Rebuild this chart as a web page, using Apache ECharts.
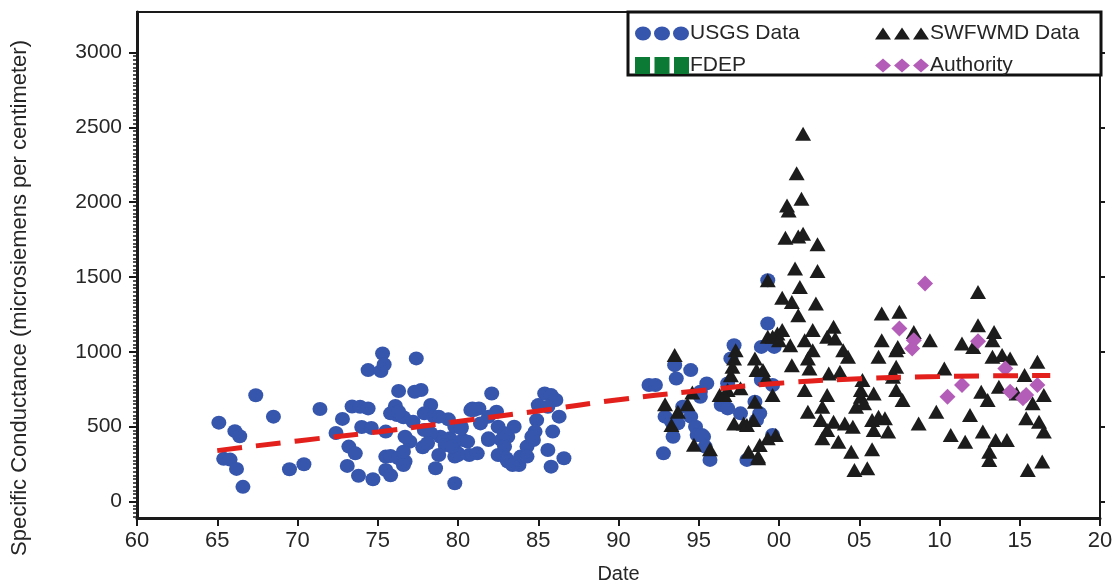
<!DOCTYPE html>
<html>
<head>
<meta charset="utf-8">
<script src="https://cdn.jsdelivr.net/npm/echarts@6/dist/echarts.min.js"></script>
<style>html,body{margin:0;padding:0;background:#fff;}#c{width:1114px;height:584px;}</style>
</head>
<body>
<div id="c"></div>
<script>
// x values are years since 1900 (e.g. 105 = 2005)
const xTickLabels = ['60','65','70','75','80','85','90','95','00','05','10','15','20'];
const yTickValues = [0, 500, 1000, 1500, 2000, 2500, 3000];

const usgsData = [
  [65.1,527],[65.4,285],[65.8,280],[66.1,470],[66.4,436],[66.2,218],[66.6,98],[67.4,710],[68.5,567],[69.5,216],[70.4,249],[71.4,618],[72.4,458],[72.8,552],
  [73.4,635],[73.9,633],[74.4,622],[74.0,498],[74.6,492],[73.2,367],[73.6,322],[73.1,238],[73.8,172],[74.7,149],[74.4,878],[75.2,872],[75.3,989],[75.4,915],[75.5,211],[75.8,175],[75.5,300],[75.8,304],[75.5,467],
  [76.3,289],[76.7,267],[76.6,244],[76.3,738],[76.1,638],[76.2,578],[76.6,563],[75.8,589],[77.2,533],[77.4,956],[77.3,733],[77.7,745],[78.3,645],[77.9,589],[78.5,567],[79.4,549],[78.1,478],[77.0,400],[76.6,333],[77.8,362],[78.9,433],[79.5,422],[79.2,378],[79.7,367],[80.0,322],[78.8,311],[79.8,300],[78.6,222],[79.8,122],[76.7,433],[77.9,478],[78.3,456],[78.1,389],[76.3,600],[78.8,567],[80.2,500],[80.8,611],[80.7,311],[81.2,322],[80.0,311],[80.3,411],[80.6,400],[79.8,500],[80.2,489],[79.6,367],
  [80.9,622],[81.3,622],[82.1,722],[82.4,600],[81.9,567],[81.4,522],[82.5,500],[81.9,411],[82.7,411],[83.1,433],[83.5,500],[82.9,367],[82.5,311],[83.0,289],[83.1,267],[83.6,256],[83.8,244],[83.9,300],[84.3,367],[84.7,411],[84.9,544],[85.0,644],[85.4,722],[85.8,711],[86.1,678],[85.6,633],[86.3,567],[85.9,467],[85.6,344],[85.8,233],[86.6,289],[84.8,467],[81.0,611],[81.9,422],[82.9,456],[83.4,244],[84.3,300],[84.6,433],
  [91.9,778],[92.3,778],[92.8,322],[92.9,567],[93.3,533],[93.4,433],[93.5,911],[93.6,822],[94.5,878],[94.0,633],[93.7,522],[94.5,567],[94.8,500],[94.9,444],[95.3,433],[95.1,733],[95.5,789],[95.7,278],[96.4,644],[96.8,622],[97.2,1044],[97.0,956],[97.6,589],[98.0,278],[98.5,667],[98.8,589],[98.9,811],[99.3,1189],[99.7,1033],[99.3,1478],[98.9,1033],[99.6,778],[99.6,444],[96.8,789],[95.2,444],[95.4,367],[98.6,544],[95.1,700]
];

const swfwmdData = [
  [93.5,978],[92.9,650],[93.7,600],[94.3,650],[94.6,728],[93.3,511],[94.7,380],[95.7,350],
  [96.3,711],[96.8,745],[97.2,522],[97.6,756],[97.8,522],[98.1,333],[98.7,289],
  [97.3,1011],[97.2,956],[97.1,900],[97.0,844],[98.5,956],[98.6,878],[99.0,878],[99.2,822],[99.3,1100],[99.9,1122],[99.6,711],[98.5,667],[96.6,711],[98.0,511],[98.4,544],[99.8,444],[99.3,422],[98.8,378],[98.7,300],
  [101.5,2456],[101.1,2193],[101.4,2022],[100.5,1978],[100.6,1944],[100.4,1762],[101.2,1771],[101.5,1789],[102.4,1718],[101.0,1556],[102.4,1540],[99.3,1478],[101.3,1433],[100.2,1362],[100.8,1333],[102.3,1322],[101.2,1245],[100.2,1145],[99.6,1100],[100.0,1078],[100.7,1044],[102.1,1145],[101.6,1078],[102.1,1011],[103.0,1100],[103.4,1167],[103.5,1089],[104.0,1011],[104.3,967],[100.8,911],[101.8,956],[101.9,889],[103.1,856],[103.8,867],[105.2,811],[105.1,745],[105.1,700],[105.9,722],[106.4,1078],[106.2,967],[106.4,1256],[107.5,1267],[107.3,1011],[107.3,900],[107.1,833],[107.3,745],[107.7,678],[101.6,745],[103.0,711],[101.8,600],[102.7,633],[102.6,544],[103.0,478],[103.4,533],[102.7,422],[104.1,522],[104.6,500],[103.7,400],[104.8,633],[105.3,656],[105.8,544],[106.2,567],[105.9,478],[106.6,556],[106.8,467],[104.5,333],[104.7,211],[105.5,222],[105.8,350],
  [108.4,1133],[109.4,1078],[107.4,1033],[107.1,856],[110.3,889],[108.7,522],[109.8,600],[110.7,444],[111.6,400],[111.4,1056],[112.4,1400],[112.4,1178],[113.4,1133],[113.3,1078],[112.1,1033],[111.9,578],[112.6,733],[113.0,678],[112.7,467],[113.5,411],[113.3,967],[113.9,978],[114.4,956],[113.7,767],[114.8,722],[115.3,845],[116.1,933],[116.5,711],[115.8,656],[115.4,556],[116.2,533],[116.5,467],[114.2,411],[113.1,333],[113.1,278],[115.5,211],[116.4,267]
];

const fdepData = [];

const authorityData = [
  [109.1,1456],[107.5,1156],[108.4,1078],[108.3,1022],[112.4,1071],[114.1,889],[111.4,778],[110.5,700],[114.4,733],[115.4,711],[116.1,778],[115.2,690]
];

const trendData = [
  [65,340],[70,405],[75,465],[80,535],[85,605],[90,680],[95,740],[100,790],[105,820],[110,835],[116.9,842]
];

const minorTickValues = [];
for (let v = -100; v <= 3000; v += 25) minorTickValues.push(v);

const FONT = 'Liberation Sans';
const TXT = '#262626';
const C_USGS = '#3656ad', C_FDEP = '#0b7a35', C_SWF = '#1c1c1c', C_AUTH = '#b35db8';

const iconCircles = 'path://M0,7a8,7 0 1,0 16,0a8,7 0 1,0 -16,0ZM19,7a8,7 0 1,0 16,0a8,7 0 1,0 -16,0ZM38,7a8,7 0 1,0 16,0a8,7 0 1,0 -16,0Z';
const iconSquares = 'path://M0,0L15,0L15,17L0,17ZM19.5,0L34.5,0L34.5,17L19.5,17ZM39,0L54,0L54,17L39,17Z';
const iconTriangles = 'path://M0,12L8,0L16,12ZM19,12L27,0L35,12ZM38,12L46,0L54,12Z';
const iconDiamonds = 'path://M0,7L8,0L16,7L8,14ZM19,7L27,0L35,7L27,14ZM38,7L46,0L54,7L46,14Z';

const chart = echarts.init(document.getElementById('c'));
chart.setOption({
  backgroundColor: '#fff',
  animation: false,
  textStyle: { fontFamily: FONT, color: TXT },
  grid: { left: 137, right: 14, top: 12, bottom: 66, show: true, borderColor: '#1a1a1a', borderWidth: 2, outerBoundsMode: 'none', containLabel: false },
  graphic: [{
    type: 'rect', z: 3,
    shape: { x: 628, y: 12, width: 473, height: 63 },
    style: { fill: '#fff', stroke: '#111', lineWidth: 3 }
  }],
  legend: [{
    orient: 'vertical', left: 630, top: 18, itemGap: 11,
    itemWidth: 54, itemHeight: 17, z: 5,
    textStyle: { fontSize: 21, color: TXT, fontFamily: FONT, padding: [0,0,0,-4] },
    data: [
      { name: 'USGS Data', icon: iconCircles, itemStyle: { color: C_USGS, opacity: 1 } },
      { name: 'FDEP', icon: iconSquares, itemStyle: { color: C_FDEP, opacity: 1 } }
    ]
  }, {
    orient: 'vertical', left: 870, top: 18, itemGap: 11,
    itemWidth: 54, itemHeight: 17, z: 5,
    textStyle: { fontSize: 21, color: TXT, fontFamily: FONT, padding: [0,0,0,-4] },
    data: [
      { name: 'SWFWMD Data', icon: iconTriangles, itemStyle: { color: C_SWF, opacity: 1 } },
      { name: 'Authority', icon: iconDiamonds, itemStyle: { color: C_AUTH, opacity: 1 } }
    ]
  }],
  xAxis: {
    type: 'value', min: 60, max: 120, interval: 5,
    name: 'Date', nameLocation: 'middle', nameGap: 46,
    nameTextStyle: { fontSize: 20, color: TXT, fontFamily: FONT },
    axisLine: { show: true, onZero: false, lineStyle: { color: '#1a1a1a', width: 3 } },
    axisTick: { show: true, inside: false, length: 8, lineStyle: { color: '#1a1a1a', width: 2 } },
    axisLabel: {
      fontSize: 22, color: TXT, margin: 12, fontFamily: FONT,
      formatter: v => xTickLabels[Math.round((v - 60) / 5)]
    },
    splitLine: { show: false }
  },
  yAxis: [{
    type: 'value', min: -110, max: 3270, position: 'left',
    name: 'Specific Conductance (microsiemens per centimeter)',
    nameLocation: 'middle', nameGap: 106, nameRotate: 90,
    nameTextStyle: { fontSize: 22, color: TXT, fontFamily: FONT, padding: [0, 66, 0, 0] },
    axisLine: { show: true, onZero: false, lineStyle: { color: '#1a1a1a', width: 3 } },
    axisTick: { show: true, length: 8, customValues: yTickValues, lineStyle: { color: '#1a1a1a', width: 2 } },
    axisLabel: { fontSize: 21, color: TXT, margin: 15, fontFamily: FONT, customValues: yTickValues, padding: [0, 0, 7, 0], formatter: v => String(v) },
    splitLine: { show: false }
  }, {
    type: 'value', min: -110, max: 3270, position: 'left',
    axisLine: { show: false },
    axisTick: { show: true, length: 4, customValues: minorTickValues, lineStyle: { color: '#1a1a1a', width: 1.5 } },
    axisLabel: { show: false },
    splitLine: { show: false }
  }, {
    type: 'value', min: -110, max: 3270, position: 'right',
    axisLine: { show: true, onZero: false, lineStyle: { color: '#1a1a1a', width: 2 } },
    axisTick: { show: true, length: 5, customValues: yTickValues, lineStyle: { color: '#1a1a1a', width: 2 } },
    axisLabel: { show: false },
    splitLine: { show: false }
  }],
  series: [{
    name: 'USGS Data', type: 'scatter', data: usgsData,
    symbol: 'circle', symbolSize: [15, 14],
    itemStyle: { color: C_USGS, opacity: 1 }
  }, {
    name: 'Trend', type: 'line', data: trendData, smooth: true,
    showSymbol: false, symbol: 'none',
    lineStyle: { color: '#e3201b', width: 5, type: [25, 14] }
  }, {
    name: 'FDEP', type: 'scatter', data: fdepData,
    symbol: 'rect', symbolSize: 15,
    itemStyle: { color: C_FDEP, opacity: 1 }
  }, {
    name: 'SWFWMD Data', type: 'scatter', data: swfwmdData,
    symbol: 'triangle', symbolSize: [16, 14],
    itemStyle: { color: C_SWF, opacity: 1 }
  }, {
    name: 'Authority', type: 'scatter', data: authorityData,
    symbol: 'diamond', symbolSize: [16, 16],
    itemStyle: { color: C_AUTH, opacity: 1 }
  }]
});
</script>
</body>
</html>
